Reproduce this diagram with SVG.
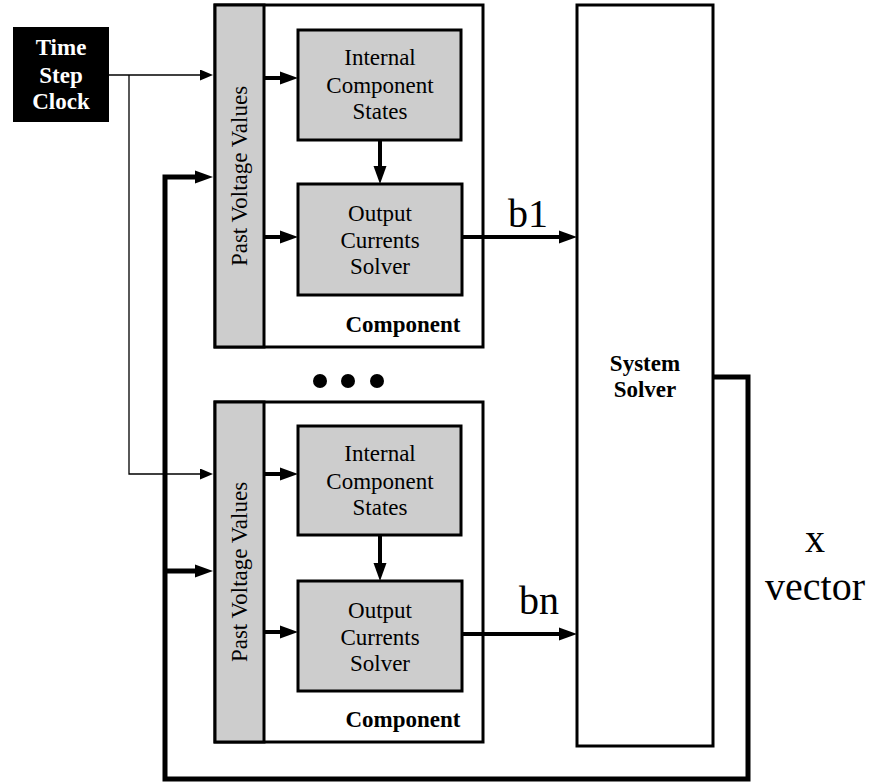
<svg xmlns="http://www.w3.org/2000/svg" width="870" height="784" viewBox="0 0 870 784">
<style>
.box{fill:#fff;stroke:#000;stroke-width:3}
.gray{fill:#cdcdcd;stroke:#000;stroke-width:3}
.t{font-family:'Liberation Serif','DejaVu Serif',serif;font-size:23px;text-anchor:middle;fill:#000}
.b{font-weight:bold}
.w{fill:#fff}
.big{font-size:40px}
.thick{stroke:#000;stroke-width:4;fill:none}
.thin{stroke:#000;stroke-width:1.3;fill:none}
.loop{stroke:#000;stroke-width:5;fill:none}
</style>
<defs>
<marker id="ah" markerUnits="userSpaceOnUse" markerWidth="18" markerHeight="14" refX="8" refY="7" orient="auto"><path d="M0,0.5 L18,7 L0,13.5 z" fill="#000"/></marker>
<marker id="ahThin" markerUnits="userSpaceOnUse" markerWidth="13" markerHeight="11" refX="3" refY="5.5" orient="auto"><path d="M0,0 L13,5.5 L0,11 z" fill="#000"/></marker>
</defs>
<g id="clock">
<rect x="13" y="27" width="96" height="95" fill="#000"/>
<text class="t b w" x="61" y="55">Time</text>
<text class="t b w" x="61" y="83">Step</text>
<text class="t b w" x="61" y="109">Clock</text>
</g>
<g id="component1">
<rect class="box" x="215" y="5" width="268" height="342"/>
<rect class="gray" x="215" y="5" width="49" height="342"/>
<text class="t" transform="translate(247,176) rotate(-90)">Past Voltage Values</text>
<text class="t b" x="403" y="332">Component</text>
</g>
<g id="ics1">
<rect class="gray" x="298" y="30" width="163" height="110"/>
<text class="t" x="380" y="65">Internal</text>
<text class="t" x="380" y="93">Component</text>
<text class="t" x="380" y="119">States</text>
</g>
<g id="ocs1">
<rect class="gray" x="298" y="184" width="164" height="111"/>
<text class="t" x="380" y="221">Output</text>
<text class="t" x="380" y="248">Currents</text>
<text class="t" x="380" y="274">Solver</text>
</g>
<g id="component2">
<rect class="box" x="215" y="402" width="268" height="340"/>
<rect class="gray" x="215" y="402" width="49" height="340"/>
<text class="t" transform="translate(247,572) rotate(-90)">Past Voltage Values</text>
<text class="t b" x="403" y="727">Component</text>
</g>
<g id="ics2">
<rect class="gray" x="298" y="426" width="163" height="109"/>
<text class="t" x="380" y="461">Internal</text>
<text class="t" x="380" y="489">Component</text>
<text class="t" x="380" y="515">States</text>
</g>
<g id="ocs2">
<rect class="gray" x="298" y="581" width="164" height="110"/>
<text class="t" x="380" y="618">Output</text>
<text class="t" x="380" y="645">Currents</text>
<text class="t" x="380" y="671">Solver</text>
</g>
<g id="dots">
<circle cx="320" cy="381" r="7"/>
<circle cx="348" cy="381" r="7"/>
<circle cx="377" cy="381" r="7"/>
</g>
<g id="system-solver">
<rect class="box" x="577" y="5" width="136" height="741"/>
<text class="t b" x="645" y="371">System</text>
<text class="t b" x="645" y="397">Solver</text>
</g>
<g id="connectors">
<path class="thin" d="M109,75 H203" marker-end="url(#ahThin)"/>
<path class="thin" d="M129,75 V474 H203" marker-end="url(#ahThin)"/>
<path class="thick" d="M264,78 H288" marker-end="url(#ah)"/>
<path class="thick" d="M380,140 V174" marker-end="url(#ah)"/>
<path class="thick" d="M264,237 H288" marker-end="url(#ah)"/>
<path class="thick" d="M462,237 H567" marker-end="url(#ah)"/>
<path class="thick" d="M264,474 H288" marker-end="url(#ah)"/>
<path class="thick" d="M380,535 V571" marker-end="url(#ah)"/>
<path class="thick" d="M264,632 H288" marker-end="url(#ah)"/>
<path class="thick" d="M462,634 H567" marker-end="url(#ah)"/>
<path class="loop" d="M713,377 H748 V779 H165 V177 H203" marker-end="url(#ah)"/>
<path class="loop" d="M165,571 H203" marker-end="url(#ah)"/>
<text class="t big" x="528" y="227">b1</text>
<text class="t big" x="539" y="614">bn</text>
<text class="t big" x="815" y="552">x</text>
<text class="t big" x="815" y="600">vector</text>
</g>
</svg>
